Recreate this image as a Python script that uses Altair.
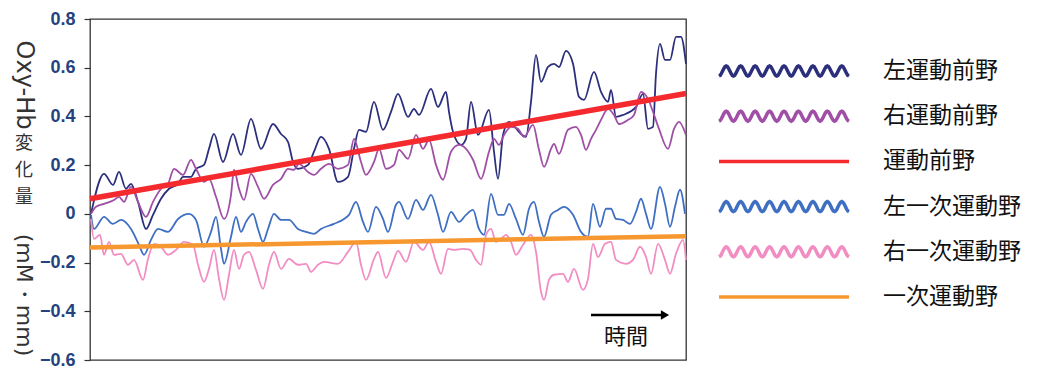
import math
import altair as alt
import pandas as pd

# ---------------- data ----------------
series = ["左運動前野", "右運動前野", "運動前野", "左一次運動野", "右一次運動野", "一次運動野"]
colors = ["#2B2F7C", "#A04FA6", "#F52A2F", "#3F6FC3", "#F18DC3", "#F7972F"]

y_ticks = [-0.6, -0.4, -0.2, 0.0, 0.2, 0.4, 0.6, 0.8]

navy_t = [1, 14, 23, 29, 36, 41, 48, 56, 63, 71, 79, 88, 93, 101, 106, 114, 119, 124, 133, 143,
          151, 161, 171, 183, 191, 198, 203, 208, 218, 224, 231, 239, 248, 258, 264, 269, 276, 284, 293, 301,
          308, 318, 324, 329, 341, 348, 356, 359, 363, 371, 376, 381, 388, 399, 404, 408, 413, 419, 431, 436,
          441, 446, 451, 458, 464, 469, 476, 483, 489, 494, 504, 511, 518, 521, 526, 533, 546, 553, 558, 563,
          566, 570, 575, 580, 586, 591, 596]
navy_v = [0.00, 0.164, 0.119, 0.172, 0.103, 0.123, 0.049, -0.062, -0.004, 0.062, 0.103, 0.123, 0.152, 0.152, 0.185, 0.201, 0.267, 0.328, 0.213, 0.328,
          0.242, 0.390, 0.267, 0.369, 0.328, 0.296, 0.213, 0.185, 0.201, 0.255, 0.316, 0.267, 0.131, 0.152, 0.267, 0.345, 0.337, 0.460, 0.345, 0.419,
          0.493, 0.398, 0.431, 0.406, 0.513, 0.439, 0.501, 0.419, 0.337, 0.283, 0.308, 0.460, 0.324, 0.427, 0.255, 0.144, 0.324, 0.378, 0.328, 0.316,
          0.460, 0.653, 0.542, 0.603, 0.616, 0.603, 0.669, 0.616, 0.480, 0.468, 0.583, 0.501, 0.460, 0.509, 0.398, 0.406, 0.439, 0.493, 0.349, 0.357,
          0.575, 0.698, 0.632, 0.632, 0.727, 0.727, 0.616]

purple_t = [1, 6, 14, 24, 29, 34, 41, 48, 56, 63, 71, 78, 84, 93, 101, 106, 114, 119, 126, 134,
            141, 144, 149, 154, 161, 168, 174, 183, 191, 198, 204, 209, 218, 224, 231, 239, 248, 258, 264, 271,
            276, 284, 289, 296, 304, 309, 318, 326, 333, 339, 346, 353, 361, 369, 376, 383, 391, 399, 404, 409,
            414, 421, 428, 434, 443, 449, 454, 461, 464, 469, 478, 486, 491, 496, 501, 506, 511, 518, 524, 529,
            538, 544, 551, 558, 563, 569, 578, 584, 589, 596]
purple_v = [0.0, 0.029, 0.041, 0.057, 0.070, 0.049, 0.111, 0.049, -0.012, 0.049, 0.103, 0.123, 0.185, 0.160, 0.222, 0.185, 0.131, 0.144, 0.070, -0.021,
            0.078, 0.181, 0.103, 0.057, 0.164, 0.111, 0.062, 0.119, 0.144, 0.185, 0.181, 0.205, 0.172, 0.160, 0.185, 0.205, 0.185, 0.201, 0.308, 0.213,
            0.160, 0.213, 0.267, 0.185, 0.201, 0.263, 0.226, 0.324, 0.267, 0.304, 0.201, 0.140, 0.255, 0.283, 0.267, 0.222, 0.144, 0.255, 0.308, 0.283,
            0.324, 0.357, 0.349, 0.316, 0.365, 0.263, 0.193, 0.267, 0.287, 0.246, 0.345, 0.357, 0.324, 0.263, 0.308, 0.345, 0.386, 0.431, 0.406, 0.369,
            0.386, 0.406, 0.501, 0.472, 0.419, 0.349, 0.267, 0.349, 0.378, 0.324]

blue_t = [1, 4, 14, 23, 31, 41, 49, 54, 61, 68, 78, 88, 99, 106, 114, 121, 126, 131, 134, 141,
          146, 151, 156, 163, 168, 173, 178, 184, 191, 199, 208, 216, 224, 231, 244, 254, 259, 266, 273, 278,
          286, 293, 298, 306, 309, 318, 326, 333, 341, 348, 353, 361, 369, 376, 383, 389, 394, 401, 408, 414,
          419, 426, 433, 439, 444, 449, 454, 461, 468, 474, 483, 491, 498, 503, 510, 516, 521, 526, 533, 540,
          546, 551, 556, 561, 570, 575, 580, 585, 590, 595]
blue_v = [-0.004, -0.062, -0.012, -0.041, -0.025, -0.062, -0.127, -0.168, -0.107, -0.062, -0.074, -0.021, 0.0, -0.025, -0.135, -0.074, -0.012, -0.144, -0.205, -0.094,
          -0.012, -0.074, -0.033, 0.0, -0.062, -0.115, -0.062, 0.0, -0.025, -0.025, -0.062, -0.074, -0.082, -0.062, -0.041, -0.021, -0.004, 0.049, -0.033, -0.074,
          0.029, -0.021, -0.074, 0.037, 0.049, -0.021, 0.057, 0.016, 0.078, -0.004, -0.074, 0.008, -0.033, -0.004, 0.016, -0.062, -0.086, 0.082, -0.004, -0.004,
          0.041, -0.021, -0.086, 0.021, 0.049, -0.033, -0.094, -0.004, 0.016, 0.029, -0.004, -0.074, -0.094, 0.041, -0.053, 0.021, 0.021, -0.021, -0.025, -0.041,
          0.008, 0.062, 0.0, -0.062, 0.111, 0.041, -0.053, 0.029, 0.099, 0.0]

pink_t = [1, 4, 10, 14, 19, 24, 31, 38, 44, 53, 58, 64, 71, 78, 86, 94, 103, 108, 114, 119,
          124, 129, 134, 139, 144, 149, 154, 159, 166, 173, 179, 184, 191, 199, 208, 216, 221, 228, 234, 248,
          258, 266, 271, 276, 284, 288, 296, 303, 308, 316, 324, 333, 339, 346, 351, 358, 364, 373, 380, 386,
          391, 396, 401, 406, 411, 416, 421, 426, 433, 441, 446, 451, 454, 459, 464, 473, 478, 484, 493, 498,
          503, 508, 515, 521, 526, 536, 543, 550, 556, 561, 568, 575, 580, 586, 593, 596]
pink_v = [-0.021, -0.103, -0.086, -0.168, -0.115, -0.168, -0.164, -0.209, -0.189, -0.271, -0.185, -0.123, -0.135, -0.168, -0.148, -0.115, -0.127, -0.209, -0.279, -0.226,
          -0.148, -0.267, -0.353, -0.250, -0.148, -0.226, -0.168, -0.156, -0.230, -0.308, -0.209, -0.156, -0.226, -0.185, -0.209, -0.205, -0.238, -0.209, -0.197, -0.205,
          -0.156, -0.115, -0.209, -0.271, -0.185, -0.156, -0.263, -0.197, -0.152, -0.197, -0.115, -0.148, -0.115, -0.197, -0.246, -0.144, -0.148, -0.144, -0.148, -0.189,
          -0.209, -0.086, -0.062, -0.115, -0.103, -0.086, -0.115, -0.168, -0.127, -0.086, -0.156, -0.320, -0.353, -0.271, -0.250, -0.246, -0.279, -0.226, -0.312, -0.267,
          -0.123, -0.177, -0.123, -0.115, -0.189, -0.205, -0.189, -0.135, -0.177, -0.246, -0.123, -0.189, -0.246, -0.164, -0.107, -0.189]

premotor_t = [0, 596]
premotor_v = [0.062, 0.494]
primary_t = [0, 596]
primary_v = [-0.138, -0.092]

t_domain = [0, 596]
y_domain = [-0.6, 0.8]

# annotation "時間" with arrow (data coordinates)
arrow_t = [501, 571]
arrow_v = -0.415
arrow_head_t = 575
time_label_t = 536
time_label_v = -0.505

# y-axis title pieces (vertical Japanese layout: Latin rotated, kanji upright)
title_latin_1 = "Oxy-Hb"
title_kanji = "変\n化\n量"
title_latin_2 = "(mM・mm)"

# ---------------- tables ----------------
def frame(name, t, v):
    d = pd.DataFrame({"t": t, "v": v})
    d["series"] = name
    return d

waves = pd.concat([frame(series[0], navy_t, navy_v),
                   frame(series[1], purple_t, purple_v),
                   frame(series[3], blue_t, blue_v),
                   frame(series[4], pink_t, pink_v)], ignore_index=True)
red_df = frame(series[2], premotor_t, premotor_v)
orange_df = frame(series[5], primary_t, primary_v)

# legend symbol shapes (unit-square SVG paths)
wave_path = "M" + " L".join(
    f"{-1 + 2 * i / 108:.4f},{0.077 * math.cos(math.pi * i / 6):.4f}" for i in range(109))
line_path = "M-1,0 L1,0"
legend_shapes = [wave_path, wave_path, line_path, wave_path, wave_path, line_path]
legend_df = pd.DataFrame({"series": series})

color = alt.Color("series:N", scale=alt.Scale(domain=series, range=colors), legend=None)
X = alt.X("t:Q", scale=alt.Scale(domain=t_domain, nice=False, zero=False), axis=None)
Y = alt.Y("v:Q", scale=alt.Scale(domain=y_domain, nice=False, zero=False),
          axis=alt.Axis(values=y_ticks, grid=False, domain=False, ticks=True, tickSize=6,
                        tickColor="#333333", tickWidth=1.2, labelPadding=9,
                        labelFont="Liberation Sans", labelFontSize=18, labelFontWeight="bold",
                        labelColor="#24427E",
                        labelExpr="datum.value == 0 ? '0' : format(datum.value, '.1f')",
                        title=None))

wave_layer = alt.Chart(waves).mark_line(strokeWidth=1.8, interpolate="monotone").encode(
    x=X, y=Y, color=color)
red_layer = alt.Chart(red_df).mark_line(strokeWidth=5.5).encode(x=X, y=Y, color=color)
orange_layer = alt.Chart(orange_df).mark_line(strokeWidth=4.5).encode(x=X, y=Y, color=color)

arrow_df = pd.DataFrame({"t": [arrow_t[0]], "t2": [arrow_t[1]], "v": [arrow_v]})
arrow_line = alt.Chart(arrow_df).mark_rule(strokeWidth=2.5, color="#000000").encode(
    x=X, x2="t2:Q", y=Y)
head_df = pd.DataFrame({"t": [arrow_head_t], "v": [arrow_v]})
arrow_head = alt.Chart(head_df).mark_point(shape="triangle-right", filled=True, size=90,
                                           color="#000000", opacity=1).encode(x=X, y=Y)
time_df = pd.DataFrame({"t": [time_label_t], "v": [time_label_v], "label": ["時間"]})
time_text = alt.Chart(time_df).mark_text(font="Noto Sans CJK JP", fontSize=22, color="#111111",
                                         align="center", baseline="middle").encode(
    x=X, y=Y, text="label:N")

one = pd.DataFrame({"k": [0]})
title_a = alt.Chart(one).mark_text(font="DejaVu Sans", fontSize=24, angle=90, align="center",
                                   baseline="middle", color="#333333").encode(
    x=alt.value(-66), y=alt.value(66), text=alt.value(title_latin_1))
title_b = alt.Chart(one).mark_text(font="Noto Sans CJK JP", fontSize=18, lineHeight=27,
                                   lineBreak="\n", align="center", baseline="middle",
                                   color="#333333").encode(
    x=alt.value(-66), y=alt.value(125), text=alt.value(title_kanji))
title_c = alt.Chart(one).mark_text(font="DejaVu Sans", fontSize=22, angle=90, align="center",
                                   baseline="middle", color="#333333").encode(
    x=alt.value(-66), y=alt.value(276), text=alt.value(title_latin_2))

LY = alt.Y("series:N", scale=alt.Scale(type="point", domain=series, range=[52, 278], padding=0),
           axis=None)
legend_symbols = alt.Chart(legend_df).mark_point(filled=False, size=16900, strokeWidth=3.5,
                                                 opacity=1).encode(
    x=alt.value(694), y=LY, color=color,
    shape=alt.Shape("series:N", scale=alt.Scale(domain=series, range=legend_shapes), legend=None))
legend_labels = alt.Chart(legend_df).mark_text(font="Noto Sans CJK JP", fontSize=23, align="left",
                                               baseline="middle", color="#111111").encode(
    x=alt.value(793), y=LY, text="series:N")

main = alt.layer(wave_layer, red_layer, orange_layer, arrow_line, arrow_head, time_text,
                 title_a, title_b, title_c)
legend = alt.layer(legend_symbols, legend_labels)

chart = alt.layer(main, legend).resolve_scale(y="independent").properties(
    width=596, height=341,
    padding={"left": 4, "top": 2, "right": 5, "bottom": 5},
    background="white",
).configure_view(stroke="#333333", strokeWidth=1.3)

chart.save("out.html", embed_options={"renderer": "svg", "actions": False})
